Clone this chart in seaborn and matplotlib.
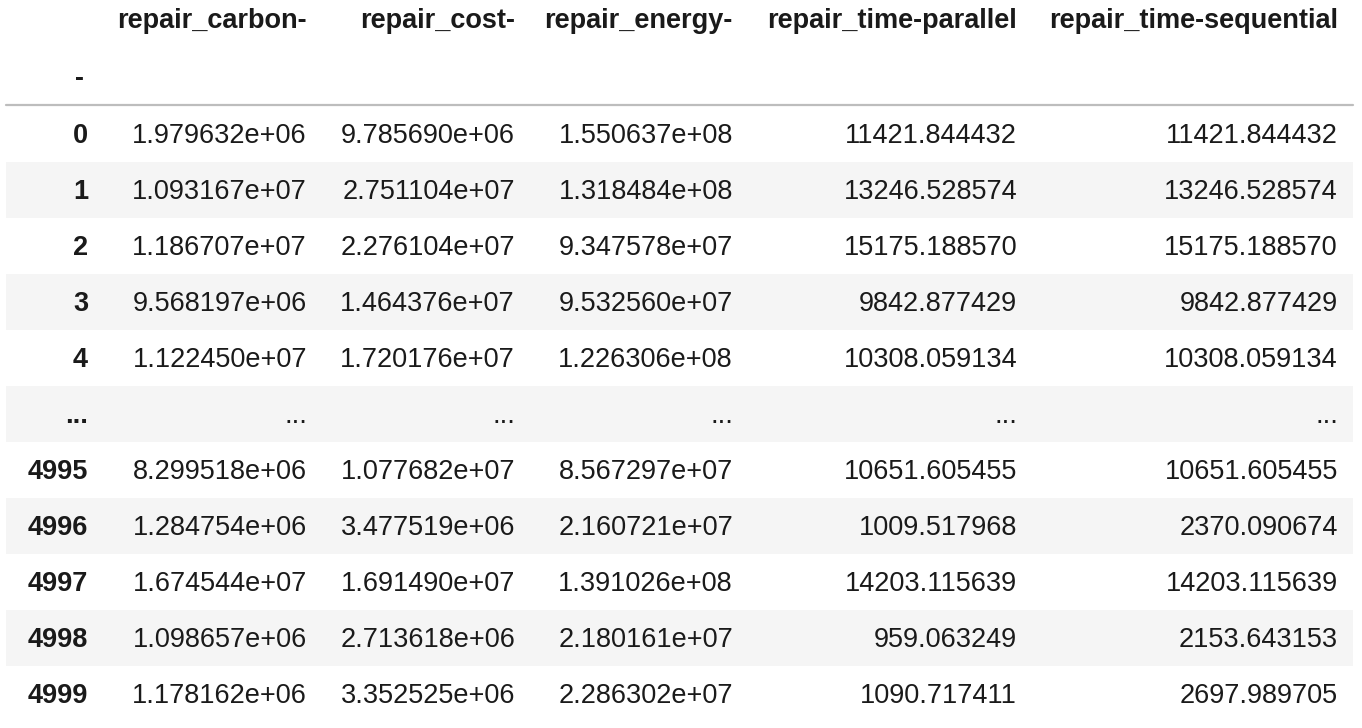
import numpy as np
import pandas as pd
import seaborn as sns
import matplotlib.pyplot as plt

# table content
columns = ['repair_carbon-', 'repair_cost-', 'repair_energy-',
           'repair_time-parallel', 'repair_time-sequential']
index_name = '-'
index_top = [0, 1, 2, 3, 4]
index_bottom = [4995, 4996, 4997, 4998, 4999]

carbon = [1.979632e+06, 1.093167e+07, 1.186707e+07, 9.568197e+06, 1.122450e+07,
          8.299518e+06, 1.284754e+06, 1.674544e+07, 1.098657e+06, 1.178162e+06]
cost = [9.785690e+06, 2.751104e+07, 2.276104e+07, 1.464376e+07, 1.720176e+07,
        1.077682e+07, 3.477519e+06, 1.691490e+07, 2.713618e+06, 3.352525e+06]
energy = [1.550637e+08, 1.318484e+08, 9.347578e+07, 9.532560e+07, 1.226306e+08,
          8.567297e+07, 2.160721e+07, 1.391026e+08, 2.180161e+07, 2.286302e+07]
time_parallel = [11421.844432, 13246.528574, 15175.188570, 9842.877429, 10308.059134,
                 10651.605455, 1009.517968, 14203.115639, 959.063249, 1090.717411]
time_sequential = [11421.844432, 13246.528574, 15175.188570, 9842.877429, 10308.059134,
                   10651.605455, 2370.090674, 14203.115639, 2153.643153, 2697.989705]

df = pd.DataFrame({
    columns[0]: carbon, columns[1]: cost, columns[2]: energy,
    columns[3]: time_parallel, columns[4]: time_sequential,
}, index=index_top + index_bottom)

formats = ['{:e}', '{:e}', '{:e}', '{:.6f}', '{:.6f}']

# layout (pixels)
W, H = 1362, 728
col_right = [88, 307, 515, 733, 1017, 1338]
row_px0, row_pitch = 134, 56
fs = 19.5
txt_color = '#1a1a1a'

sns.set_style('white')
plt.rcParams['font.family'] = ['Liberation Sans', 'DejaVu Sans']

fig = plt.figure(figsize=(W / 100, H / 100), dpi=100)
ax = fig.add_axes([0, 0, 1, 1])
ax.set_xlim(0, W)
ax.set_ylim((H - row_px0) / row_pitch, -row_px0 / row_pitch)
ax.axis('off')

# rows shown: 5 head, ellipsis, 5 tail
labels = [str(i) for i in index_top] + ['...'] + [str(i) for i in index_bottom]
cells = []
for i in range(len(df)):
    cells.append([f.format(v) for f, v in zip(formats, df.iloc[i].values)])
cells = cells[:5] + [['...'] * 5] + cells[5:]

for r in range(len(labels)):
    if r % 2 == 1:
        ax.axhspan(r - 0.5, r + 0.5, xmin=6 / W, xmax=1353 / W, color='#f5f5f5', lw=0, zorder=0)
    ax.text(col_right[0], r + 0.03, labels[r], ha='right', va='center', fontsize=fs,
            fontweight='bold', color=txt_color)
    for c, s in enumerate(cells[r]):
        ax.text(col_right[c + 1], r + 0.03, s, ha='right', va='center', fontsize=fs,
                color=txt_color)

# header
for c, name in enumerate(columns):
    ax.text(col_right[c + 1], -2.02, name, ha='right', va='center', fontsize=fs,
            fontweight='bold', color=txt_color)
ax.text(col_right[0] - 4, -0.98, index_name, ha='right', va='center', fontsize=fs,
        fontweight='bold', color=txt_color)

ax.axhline(-0.52, xmin=6 / W, xmax=1353 / W, color='#bdbdbd', lw=1.6)

fig.savefig('out.png', dpi=100)
